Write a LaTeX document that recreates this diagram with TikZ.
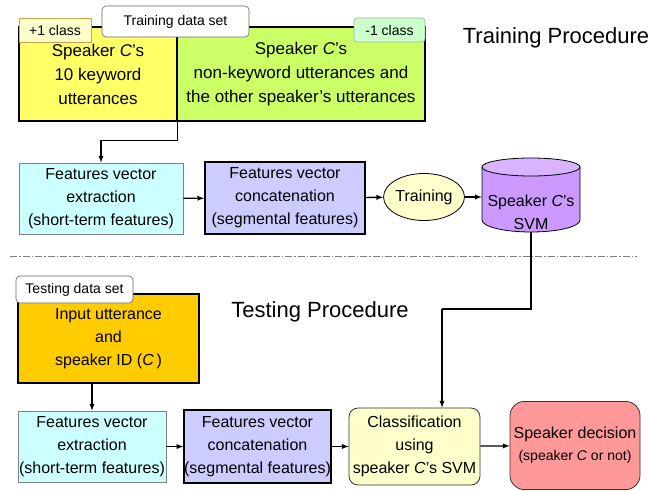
\documentclass[tikz,border=0pt]{standalone}
\usepackage{fontspec}
\setmainfont{Liberation Sans}
\usetikzlibrary{shapes.geometric}
\definecolor{posfill}{HTML}{FFFF66}
\definecolor{negfill}{HTML}{CCFF66}
\definecolor{postabfill}{HTML}{FFFFCC}
\definecolor{postabline}{HTML}{CCA24A}
\definecolor{negtabfill}{HTML}{CCFFCC}
\definecolor{negtabline}{HTML}{99B399}
\definecolor{extfill}{HTML}{CCFFFF}
\definecolor{catfill}{HTML}{CCCCFF}
\definecolor{trainfill}{HTML}{FFFFCC}
\definecolor{svmbody}{HTML}{CC99FF}
\definecolor{svmtop}{HTML}{D9B3FF}
\definecolor{inpfill}{HTML}{FFCC00}
\definecolor{decfill}{HTML}{FF9999}
\begin{document}
\begin{tikzpicture}[x=1pt,y=-1pt,>=latex,
    every node/.style={align=center,inner sep=0pt,font=\fontsize{16}{23}\selectfont},
    bigbox/.style={draw=black,line width=1.4pt,minimum height=94pt,font=\fontsize{17}{24}\selectfont},
    tabbox/.style={draw,line width=0.6pt,font=\fontsize{14}{16}\selectfont},
    extbox/.style={draw=gray,line width=0.8pt,fill=extfill,minimum height=71pt},
    catbox/.style={draw=black,line width=1.6pt,fill=catfill,minimum height=72pt},
    flow/.style={->,line width=1.3pt},
    proctitle/.style={font=\fontsize{22}{26}\selectfont}]
  \useasboundingbox (0,0) rectangle (669,490);
  % training part
  \node[bigbox,fill=posfill,minimum width=158pt] (pos) at (98,74)
    {Speaker \textit{C}’s\\10 keyword\\utterances};
  \node[bigbox,fill=negfill,minimum width=248pt] (neg) at (301,74)
    {Speaker \textit{C}’s\\non-keyword utterances and\\the other speaker’s utterances};
  \node[tabbox,draw=postabline,fill=postabfill,minimum width=72pt,minimum height=24pt] (plustab) at (55,30) {+1 class};
  \node[tabbox,draw=negtabline,fill=negtabfill,minimum width=71pt,minimum height=24pt,rounded corners=3pt] (minustab) at (389.5,30) {-1 class};
  \node[tabbox,draw=gray!80!black,fill=white,minimum width=147pt,minimum height=31pt,rounded corners=4pt] (trainset) at (175.5,21.5) {Training data set};
  \node[proctitle] (traintitle) at (556,38) {Training Procedure};
  \node[extbox,minimum width=164pt] (ext1) at (101,198.5)
    {Features vector\\extraction\\(short-term features)};
  \node[catbox,minimum width=160pt] (cat1) at (285,198)
    {Features vector\\concatenation\\(segmental features)};
  \node[ellipse,draw,line width=0.8pt,fill=trainfill,minimum width=74pt,minimum height=47pt] (train) at (424,197) {Training};
  \node[minimum width=98pt,minimum height=74pt] (svm) at (531,195) {};
  \filldraw[fill=svmbody,line width=0.8pt] (482,167) -- (482,220)
    arc[start angle=180,end angle=0,x radius=49,y radius=12] -- (580,167);
  \filldraw[fill=svmtop,line width=0.8pt] (531,167) ellipse[x radius=49,y radius=9];
  \node (svmtext) at (531,212) {Speaker \textit{C}’s\\SVM};
  \draw[flow] (pos.south east) -- ++(0,19) -| (ext1.north);
  \draw[flow] (ext1) -- (cat1);
  \draw[flow] (cat1) -- (train);
  \draw[flow] (train.east) -- (svm.west |- train.east);
  % divider
  \coordinate (divl) at (10,256);
  \coordinate (divr) at (637,256);
  \draw[gray,line width=0.8pt,dash pattern=on 7pt off 2pt on 1.5pt off 2pt] (divl) -- (divr);
  % testing part
  \node[draw=black,line width=1.4pt,fill=inpfill,minimum width=181pt,minimum height=89pt] (inp) at (108.5,338.5)
    {Input utterance\\and\\speaker ID (\textit{C}\,)};
  \node[tabbox,draw=gray!80!black,fill=white,minimum width=117pt,minimum height=27pt,rounded corners=4pt] (testset) at (74.5,289.5) {Testing data set};
  \node[proctitle] (testtitle) at (320,312) {Testing Procedure};
  \node[extbox,minimum width=148pt] (ext2) at (92,446.5)
    {Features vector\\extraction\\(short-term features)};
  \node[catbox,minimum width=143pt,minimum height=73pt] (cat2) at (257.5,446.5)
    {Features vector\\concatenation\\(segmental features)};
  \node[draw=black!80,line width=0.8pt,fill=trainfill,rounded corners=9pt,minimum width=131pt,minimum height=77pt] (class) at (414.5,446.5)
    {Classification\\using\\speaker \textit{C}’s SVM};
  \node[draw=black!80,line width=0.8pt,fill=decfill,rounded corners=14pt,minimum width=130pt,minimum height=88pt] (dec) at (575,445.5)
    {Speaker decision\\[-1pt]{\fontsize{14}{16}\selectfont(speaker \textit{C} or not)}};
  \coordinate (svmdrop) at (442,309);
  \draw[line width=1.3pt] (svm.south) |- (svmdrop);
  \draw[flow] (svmdrop) -- (svmdrop |- class.north);
  \draw[flow] (ext2.north |- inp.south) -- (ext2.north);
  \draw[flow] (ext2) -- (cat2);
  \draw[flow] (cat2) -- (class);
  \draw[flow] (class) -- (dec);
\end{tikzpicture}
\end{document}
